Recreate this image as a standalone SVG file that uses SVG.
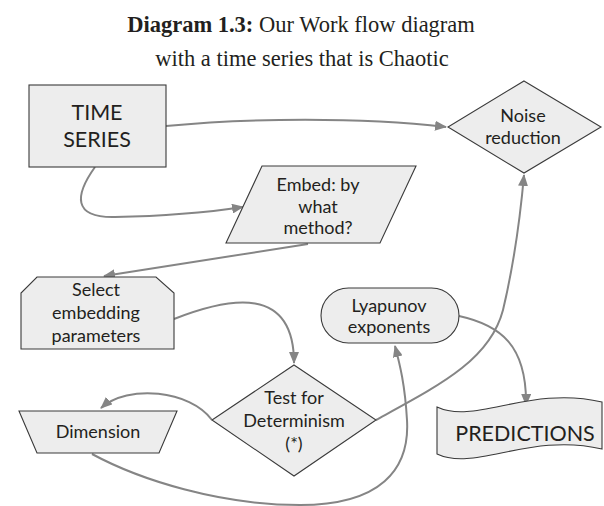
<svg xmlns="http://www.w3.org/2000/svg" width="604" height="506" viewBox="0 0 604 506">
  <style>
    .title { font-family: "Liberation Serif", "Times New Roman", serif; font-size: 22.5px; fill: #231f20; text-anchor: middle; }
    .title .b { font-weight: bold; }
    .node { fill: #ededed; stroke: #3a3a3a; stroke-width: 1.1; }
    .lbl { font-family: Lato, "Open Sans", "Liberation Sans", sans-serif; font-size: 18px; fill: #231f20; text-anchor: middle; }
    .big { font-size: 21.5px; }
    .link { fill: none; stroke: #858585; stroke-width: 2; }
  </style>
  <defs>
    <marker id="arrow" viewBox="0 0 12 10" refX="11" refY="5" markerWidth="12" markerHeight="10" markerUnits="userSpaceOnUse" orient="auto">
      <path d="M0,0 L12,5 L0,10 Z" fill="#858585"/>
    </marker>
  </defs>

  <rect width="604" height="506" fill="#ffffff"/>

  <!-- heading -->
  <text class="title" x="301" y="32"><tspan class="b">Diagram 1.3:</tspan> Our Work flow diagram</text>
  <text class="title" x="302" y="66">with a time series that is Chaotic</text>

  <!-- connectors -->
  <g id="connectors">
    <path class="link" d="M166,126 C250,118 360,117 446,127" marker-end="url(#arrow)"/>
    <path class="link" d="M95,167 C75,195 72,218 115,217 C170,216 210,212 243,207" marker-end="url(#arrow)"/>
    <path class="link" d="M308,244 L104,276" marker-end="url(#arrow)"/>
    <path class="link" d="M174,319 C230,297 294,285 294,363" marker-end="url(#arrow)"/>
    <path class="link" d="M212,420 C190,390 128,384 101,408" marker-end="url(#arrow)"/>
    <path class="link" d="M92,454 C140,480 220,505 300,505 C380,505 410,470 407,420 C405,385 400,365 395,346" marker-end="url(#arrow)"/>
    <path class="link" d="M376,420 C440,385 490,360 503,310 C512,272 520,220 524,175" marker-end="url(#arrow)"/>
    <path class="link" d="M459,316 C500,325 527,345 526,405" marker-end="url(#arrow)"/>
  </g>

  <!-- nodes -->
  <g id="time-series">
    <rect class="node" x="29" y="85" width="137" height="82"/>
    <text class="lbl big" x="97" y="120">TIME</text>
    <text class="lbl big" x="97" y="147">SERIES</text>
  </g>

  <g id="noise-reduction">
    <polygon class="node" points="524,81 601,127 524,173 448,127"/>
    <text class="lbl" x="523" y="122">Noise</text>
    <text class="lbl" x="523" y="144">reduction</text>
  </g>

  <g id="embed">
    <polygon class="node" points="262,166 416,166 380,243 226,243"/>
    <text class="lbl" x="318" y="191">Embed: by</text>
    <text class="lbl" x="318" y="213">what</text>
    <text class="lbl" x="318" y="234">method?</text>
  </g>

  <g id="select-parameters">
    <polygon class="node" points="37,277 156,277 174,293 174,349 21,349 21,293"/>
    <text class="lbl" x="96" y="296">Select</text>
    <text class="lbl" x="96" y="319">embedding</text>
    <text class="lbl" x="96" y="342">parameters</text>
  </g>

  <g id="lyapunov">
    <rect class="node" x="321" y="288" width="138" height="55" rx="27.5" ry="27.5"/>
    <text class="lbl" x="389" y="312">Lyapunov</text>
    <text class="lbl" x="389" y="333">exponents</text>
  </g>

  <g id="test-determinism">
    <polygon class="node" points="294,365 376,420 294,476 212,420"/>
    <text class="lbl" x="294" y="404">Test for</text>
    <text class="lbl" x="294" y="427">Determinism</text>
    <text class="lbl" x="294" y="450">(*)</text>
  </g>

  <g id="dimension">
    <polygon class="node" points="19,411 177,411 159,453 37,453"/>
    <text class="lbl" x="98" y="438">Dimension</text>
  </g>

  <g id="predictions">
    <path class="node" d="M437,407 C475,425 530,385 602,402 L602,449 C530,432 475,472 437,454 Z"/>
    <text class="lbl big" x="525" y="441">PREDICTIONS</text>
  </g>
</svg>
